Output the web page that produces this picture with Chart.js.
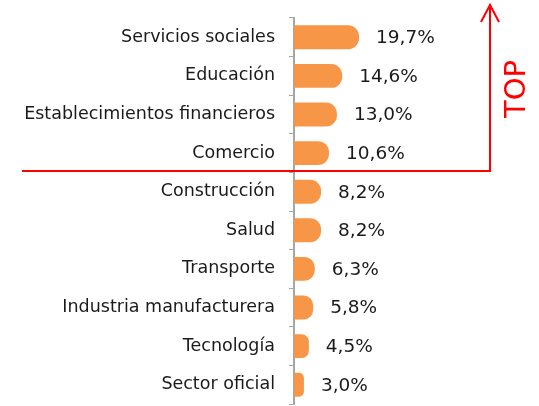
<!DOCTYPE html>
<html>
<head>
<meta charset="utf-8">
<script src="https://cdn.jsdelivr.net/npm/chart.js@4"></script>
<style>
  body { margin: 0; background: #fff; }
</style>
</head>
<body>
<canvas id="chart" width="539" height="406"></canvas>
<script>
const sectores = ['Servicios sociales', 'Educación', 'Establecimientos financieros', 'Comercio',
    'Construcción', 'Salud', 'Transporte', 'Industria manufacturera', 'Tecnología', 'Sector oficial'];
const porcentajes = [19.7, 14.6, 13.0, 10.6, 8.2, 8.2, 6.3, 5.8, 4.5, 3.0];
const etiquetas = ['19,7%', '14,6%', '13,0%', '10,6%', '8,2%', '8,2%', '6,3%', '5,8%', '4,5%', '3,0%'];
const topCount = 4; // les 4 premiers secteurs sont dans le "TOP"

const fuente = '"DejaVu Sans", sans-serif';

// étiquettes de valeur à droite des barres
const valueLabels = {
    id: 'valueLabels',
    afterDatasetsDraw(chart) {
        const ctx = chart.ctx;
        const meta = chart.getDatasetMeta(0);
        ctx.save();
        ctx.font = '18.5px ' + fuente;
        ctx.fillStyle = '#1a1a1a';
        ctx.textBaseline = 'middle';
        meta.data.forEach((bar, i) => {
            ctx.fillText(etiquetas[i], bar.x + 17, bar.y + 1);
        });
        ctx.restore();
    }
};

// ligne rouge + flèche + texte TOP
const topMarker = {
    id: 'topMarker',
    afterDraw(chart) {
        const ctx = chart.ctx;
        const y = chart.scales.y;
        const lineY = Math.round((y.getPixelForValue(topCount - 1) + y.getPixelForValue(topCount)) / 2) - 1;
        const xArrow = 490;
        ctx.save();
        ctx.strokeStyle = '#FF0000';
        ctx.lineWidth = 2;
        ctx.beginPath();
        ctx.moveTo(22, lineY);
        ctx.lineTo(xArrow, lineY);
        ctx.lineTo(xArrow, 6);
        ctx.stroke();
        ctx.beginPath();
        ctx.moveTo(xArrow - 9, 22);
        ctx.lineTo(xArrow, 5);
        ctx.lineTo(xArrow + 9, 22);
        ctx.stroke();
        ctx.translate(517, 89);
        ctx.rotate(-Math.PI / 2);
        ctx.fillStyle = '#FF0000';
        ctx.font = '29px ' + fuente;
        ctx.textAlign = 'center';
        ctx.textBaseline = 'middle';
        ctx.fillText('TOP', 0, 0);
        ctx.restore();
    }
};

var ctx = document.getElementById('chart').getContext('2d');
var myChart = new Chart(ctx, {
    type: 'bar',
    data: {
        labels: sectores,
        datasets: [{
            data: porcentajes,
            backgroundColor: '#F79646',
            borderRadius: 11,
            borderSkipped: 'start',
            barPercentage: 0.62,
            categoryPercentage: 1.0
        }]
    },
    options: {
        indexAxis: 'y',
        responsive: false,
        animation: false,
        layout: { padding: { top: 18, bottom: 2, left: 0, right: 146 } },
        plugins: {
            legend: { display: false },
            tooltip: { enabled: false }
        },
        scales: {
            x: {
                display: false,
                min: 0,
                max: 30
            },
            y: {
                afterFit: function(scale) {
                    scale.width = 294;
                    scale.paddingTop = 0;
                    scale.paddingBottom = 0;
                },
                grid: {
                    drawOnChartArea: false,
                    drawTicks: true,
                    tickLength: 5,
                    color: '#A6A6A6',
                    offset: true
                },
                border: { color: '#A6A6A6', width: 2 },
                ticks: {
                    padding: 14,
                    color: '#1a1a1a',
                    font: { family: fuente, size: 17.5 }
                }
            }
        }
    },
    plugins: [valueLabels, topMarker]
});
</script>
</body>
</html>
